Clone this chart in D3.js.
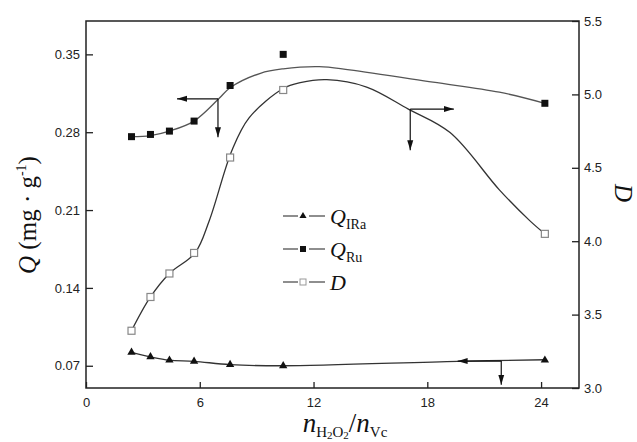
<!DOCTYPE html>
<html>
<head>
<meta charset="utf-8">
<script src="https://cdn.jsdelivr.net/npm/d3@7"></script>
<style>
  body { margin: 0; background: #fff; }
</style>
</head>
<body>
<svg id="chart" width="637" height="442"></svg>
<script>
// measured points (x = n(H2O2)/n(Vc))
const ratio = [2.4, 3.4, 4.4, 5.7, 7.6, 10.4, 24.2];
const qIRa = [0.082, 0.078, 0.075, 0.074, 0.071, 0.070, 0.075];
const qRu = [0.276, 0.278, 0.281, 0.290, 0.322, 0.350, 0.306];
const dVal = [3.39, 3.62, 3.78, 3.92, 4.57, 5.03, 4.05];

// fitted curves
const ruFitX = [2.4, 3.4, 4.4, 5.7, 7.0, 7.6, 9.2, 10.4, 12.3, 13.9, 18.3, 21.8, 24.2];
const ruFitY = [0.276, 0.277, 0.281, 0.290, 0.310, 0.320, 0.333, 0.337, 0.339, 0.336, 0.325, 0.316, 0.306];
const dFitX = [2.4, 3.4, 4.4, 5.75, 6.5, 7.7, 8.6, 10.4, 11.3, 12.7, 14.8, 17.0, 19.2, 21.8, 23.4, 24.2];
const dFitY = [3.39, 3.62, 3.78, 3.92, 4.14, 4.62, 4.84, 5.04, 5.08, 5.10, 5.05, 4.90, 4.74, 4.35, 4.14, 4.05];
const iraFitX = [2.4, 3.4, 4.4, 5.7, 7.6, 10.4, 19.6, 24.2];
const iraFitY = [0.082, 0.078, 0.075, 0.074, 0.071, 0.070, 0.074, 0.0754];

// arrows: [corner x, corner y, horizontal end x, vertical end y]
const arrowRu = [6.96, 0.310, 4.8, 0.2755];
const arrowD = [17.1, 4.90, 19.4, 4.62];
const arrowIRa = [21.9, 0.0742, 19.6, 0.053];

const xTicks = [0, 6, 12, 18, 24];
const leftTicks = [0.07, 0.14, 0.21, 0.28, 0.35];
const rightTicks = [3.0, 3.5, 4.0, 4.5, 5.0, 5.5];

const width = 637, height = 442;
const margin = { top: 21, right: 58, bottom: 54, left: 86 };
const svg = d3.select('#chart');

const x = d3.scaleLinear().domain([0, 26]).range([margin.left, width - margin.right]);
const yL = d3.scaleLinear().domain([0.05, 0.38]).range([height - margin.bottom, margin.top]);
const yR = d3.scaleLinear().domain([3.0, 5.5]).range([height - margin.bottom, margin.top]);

const sans = 'Arial, "Liberation Sans", sans-serif';
const serif = '"Times New Roman", "Liberation Serif", serif';

// arrowhead
svg.append('defs').append('marker')
  .attr('id', 'head')
  .attr('viewBox', '0 0 10 10')
  .attr('refX', 10).attr('refY', 5)
  .attr('markerWidth', 10).attr('markerHeight', 10)
  .attr('markerUnits', 'userSpaceOnUse')
  .attr('orient', 'auto')
  .append('path')
  .attr('d', 'M0,2 L10,5 L0,8 Z')
  .attr('fill', '#111');

// axes, ticks pointing inward
function styleAxis(g) {
  g.select('.domain').remove();
  g.selectAll('line').attr('stroke', '#222').attr('stroke-width', 1.3);
  g.selectAll('text').attr('font-family', sans).attr('font-size', 13).attr('fill', '#222');
}

svg.append('g')
  .attr('transform', `translate(0,${height - margin.bottom})`)
  .call(d3.axisBottom(x).tickValues(xTicks).tickSize(-6).tickPadding(10).tickFormat(d3.format('d')))
  .call(styleAxis);

svg.append('g')
  .attr('transform', `translate(${margin.left},0)`)
  .call(d3.axisLeft(yL).tickValues(leftTicks).tickSize(-7).tickPadding(6).tickFormat(d3.format('.2f')))
  .call(styleAxis);

svg.append('g')
  .attr('transform', `translate(${width - margin.right},0)`)
  .call(d3.axisRight(yR).tickValues(rightTicks).tickSize(-7).tickPadding(5).tickFormat(d3.format('.1f')))
  .call(styleAxis);

// frame
svg.append('rect')
  .attr('x', margin.left).attr('y', margin.top)
  .attr('width', width - margin.left - margin.right)
  .attr('height', height - margin.top - margin.bottom)
  .attr('fill', 'none').attr('stroke', '#222').attr('stroke-width', 1.5);

// fitted curves
const curveL = d3.line().x(d => x(d[0])).y(d => yL(d[1])).curve(d3.curveCatmullRom.alpha(0.5));
const curveR = d3.line().x(d => x(d[0])).y(d => yR(d[1])).curve(d3.curveCatmullRom.alpha(0.5));

svg.append('path')
  .attr('d', curveL(d3.zip(ruFitX, ruFitY)))
  .attr('fill', 'none').attr('stroke', '#555').attr('stroke-width', 1.3);
svg.append('path')
  .attr('d', curveR(d3.zip(dFitX, dFitY)))
  .attr('fill', 'none').attr('stroke', '#333').attr('stroke-width', 1.3);
svg.append('path')
  .attr('d', curveL(d3.zip(iraFitX, iraFitY)))
  .attr('fill', 'none').attr('stroke', '#333').attr('stroke-width', 1.3);

// annotation arrows
function arrow(a, yScale) {
  const g = svg.append('g').attr('stroke', '#111').attr('stroke-width', 1.2);
  g.append('line')
    .attr('x1', x(a[0])).attr('y1', yScale(a[1]))
    .attr('x2', x(a[2])).attr('y2', yScale(a[1]))
    .attr('marker-end', 'url(#head)');
  g.append('line')
    .attr('x1', x(a[0])).attr('y1', yScale(a[1]))
    .attr('x2', x(a[0])).attr('y2', yScale(a[3]))
    .attr('marker-end', 'url(#head)');
}
arrow(arrowRu, yL);
arrow(arrowD, yR);
arrow(arrowIRa, yL);

// markers
const tri = d3.symbol().type(d3.symbolTriangle).size(30);
svg.append('g').selectAll('path')
  .data(d3.zip(ratio, qIRa))
  .join('path')
  .attr('transform', d => `translate(${x(d[0])},${yL(d[1])})`)
  .attr('d', tri)
  .attr('fill', '#111');

svg.append('g').selectAll('rect')
  .data(d3.zip(ratio, qRu))
  .join('rect')
  .attr('x', d => x(d[0]) - 3.5).attr('y', d => yL(d[1]) - 3.5)
  .attr('width', 7).attr('height', 7)
  .attr('fill', '#111');

svg.append('g').selectAll('rect')
  .data(d3.zip(ratio, dVal))
  .join('rect')
  .attr('x', d => x(d[0]) - 3.5).attr('y', d => yR(d[1]) - 3.5)
  .attr('width', 7).attr('height', 7)
  .attr('fill', '#fff').attr('stroke', '#888').attr('stroke-width', 1.2);

// legend
const legendRows = [
  { key: 'ira', name: 'Q', sub: 'IRa' },
  { key: 'ru', name: 'Q', sub: 'Ru' },
  { key: 'd', name: 'D', sub: '' }
];
const legend = svg.append('g').attr('transform', 'translate(283,216)');
legendRows.forEach((r, i) => {
  const g = legend.append('g').attr('transform', `translate(0,${i * 33})`);
  g.append('line').attr('x1', 0).attr('x2', 15).attr('stroke', '#444').attr('stroke-width', 1.2);
  g.append('line').attr('x1', 26).attr('x2', 42).attr('stroke', '#444').attr('stroke-width', 1.2);
  if (r.key === 'ira') {
    g.append('path').attr('transform', 'translate(20,0)').attr('d', d3.symbol().type(d3.symbolTriangle).size(22)).attr('fill', '#111');
  } else if (r.key === 'ru') {
    g.append('rect').attr('x', 17).attr('y', -3).attr('width', 6).attr('height', 6).attr('fill', '#111');
  } else {
    g.append('rect').attr('x', 17).attr('y', -3).attr('width', 6).attr('height', 6)
      .attr('fill', '#fff').attr('stroke', '#999').attr('stroke-width', 1);
  }
  const t = g.append('text').attr('x', 47).attr('y', 8)
    .attr('font-family', serif).attr('font-size', 22).attr('fill', '#111');
  t.append('tspan').attr('font-style', 'italic').text(r.name);
  if (r.sub) t.append('tspan').attr('font-size', 14).attr('dy', 5).text(r.sub);
});

// left axis title
const lt = svg.append('text')
  .attr('transform', 'translate(36,215) rotate(-90)')
  .attr('text-anchor', 'middle')
  .attr('font-family', serif).attr('font-size', 25).attr('fill', '#111');
lt.append('tspan').attr('font-style', 'italic').text('Q');
lt.append('tspan').text(' (mg · g');
lt.append('tspan').attr('font-size', 14).attr('dy', -10).text('-1');
lt.append('tspan').attr('dy', 10).text(')');

// right axis title
svg.append('text')
  .attr('transform', 'translate(615,193) rotate(90)')
  .attr('text-anchor', 'middle')
  .attr('font-family', serif).attr('font-size', 25).attr('font-style', 'italic')
  .attr('fill', '#111')
  .text('D');

// x axis title
const xt = svg.append('text')
  .attr('x', 345).attr('y', 432)
  .attr('text-anchor', 'middle')
  .attr('font-family', serif).attr('font-size', 27).attr('fill', '#111');
xt.append('tspan').attr('font-style', 'italic').text('n');
xt.append('tspan').attr('font-size', 15).attr('dy', 5).text('H');
xt.append('tspan').attr('font-size', 11).attr('dy', 2).text('2');
xt.append('tspan').attr('font-size', 15).attr('dy', -2).text('O');
xt.append('tspan').attr('font-size', 11).attr('dy', 2).text('2');
xt.append('tspan').attr('dy', -7).text('/');
xt.append('tspan').attr('font-style', 'italic').text('n');
xt.append('tspan').attr('font-size', 15).attr('dy', 5).text('Vc');
</script>
</body>
</html>
